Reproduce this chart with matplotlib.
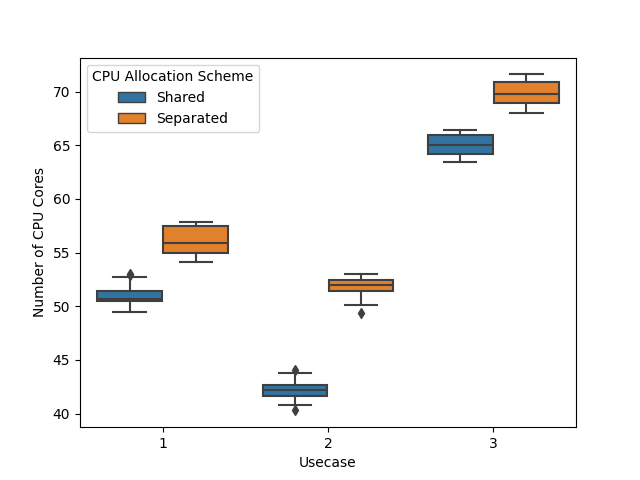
import matplotlib
matplotlib.use('Agg')
import matplotlib.pyplot as plt
from matplotlib.patches import Patch
import numpy as np

usecases = ['1', '2', '3']
schemes = ['Shared', 'Separated']
colors = ['#3274a1', '#e1812c']
line_gray = '#3f3f3f'

# box statistics, one list per scheme (usecase 1..3)
shared_whislo = [49.5, 40.77, 63.43]
shared_q1 = [50.52, 41.67, 64.14]
shared_med = [50.68, 42.16, 65.0]
shared_q3 = [51.45, 42.63, 65.93]
shared_whishi = [52.72, 43.81, 66.46]
shared_fliers = [[52.9, 53.05], [44.07, 40.3], []]

sep_whislo = [54.14, 50.15, 68.04]
sep_q1 = [54.98, 51.42, 68.97]
sep_med = [55.9, 51.95, 69.74]
sep_q3 = [57.48, 52.44, 70.86]
sep_whishi = [57.83, 53.0, 71.6]
sep_fliers = [[], [49.35], []]


def make_stats(lo, q1, med, q3, hi, fl):
    return [dict(whislo=lo[i], q1=q1[i], med=med[i], q3=q3[i], whishi=hi[i],
                 fliers=fl[i]) for i in range(len(lo))]


all_stats = [
    make_stats(shared_whislo, shared_q1, shared_med, shared_q3, shared_whishi, shared_fliers),
    make_stats(sep_whislo, sep_q1, sep_med, sep_q3, sep_whishi, sep_fliers),
]

fig, ax = plt.subplots(figsize=(6.4, 4.8), dpi=100)

x = np.arange(len(usecases))
width = 0.4
for j, stats in enumerate(all_stats):
    pos = x - 0.2 + j * width
    ax.bxp(stats, positions=pos, widths=width * 0.98, patch_artist=True,
           boxprops=dict(facecolor=colors[j], edgecolor=line_gray, linewidth=1.5),
           medianprops=dict(color=line_gray, linewidth=1.5),
           whiskerprops=dict(color=line_gray, linewidth=1.5),
           capprops=dict(color=line_gray, linewidth=1.5),
           flierprops=dict(marker='d', markerfacecolor=line_gray,
                           markeredgecolor=line_gray, markersize=5),
           manage_ticks=False)

ax.set_xlim(-0.5, len(usecases) - 0.5)
ax.set_xticks(x)
ax.set_xticklabels(usecases)
ax.set_xlabel('Usecase')
ax.set_ylabel('Number of CPU Cores')
ax.margins(y=0.05)
ax.autoscale(axis='y')

handles = [Patch(facecolor=colors[j], edgecolor=line_gray, label=schemes[j])
           for j in range(len(schemes))]
ax.legend(handles=handles, title='CPU Allocation Scheme', loc='upper left')

fig.savefig('out.png')
